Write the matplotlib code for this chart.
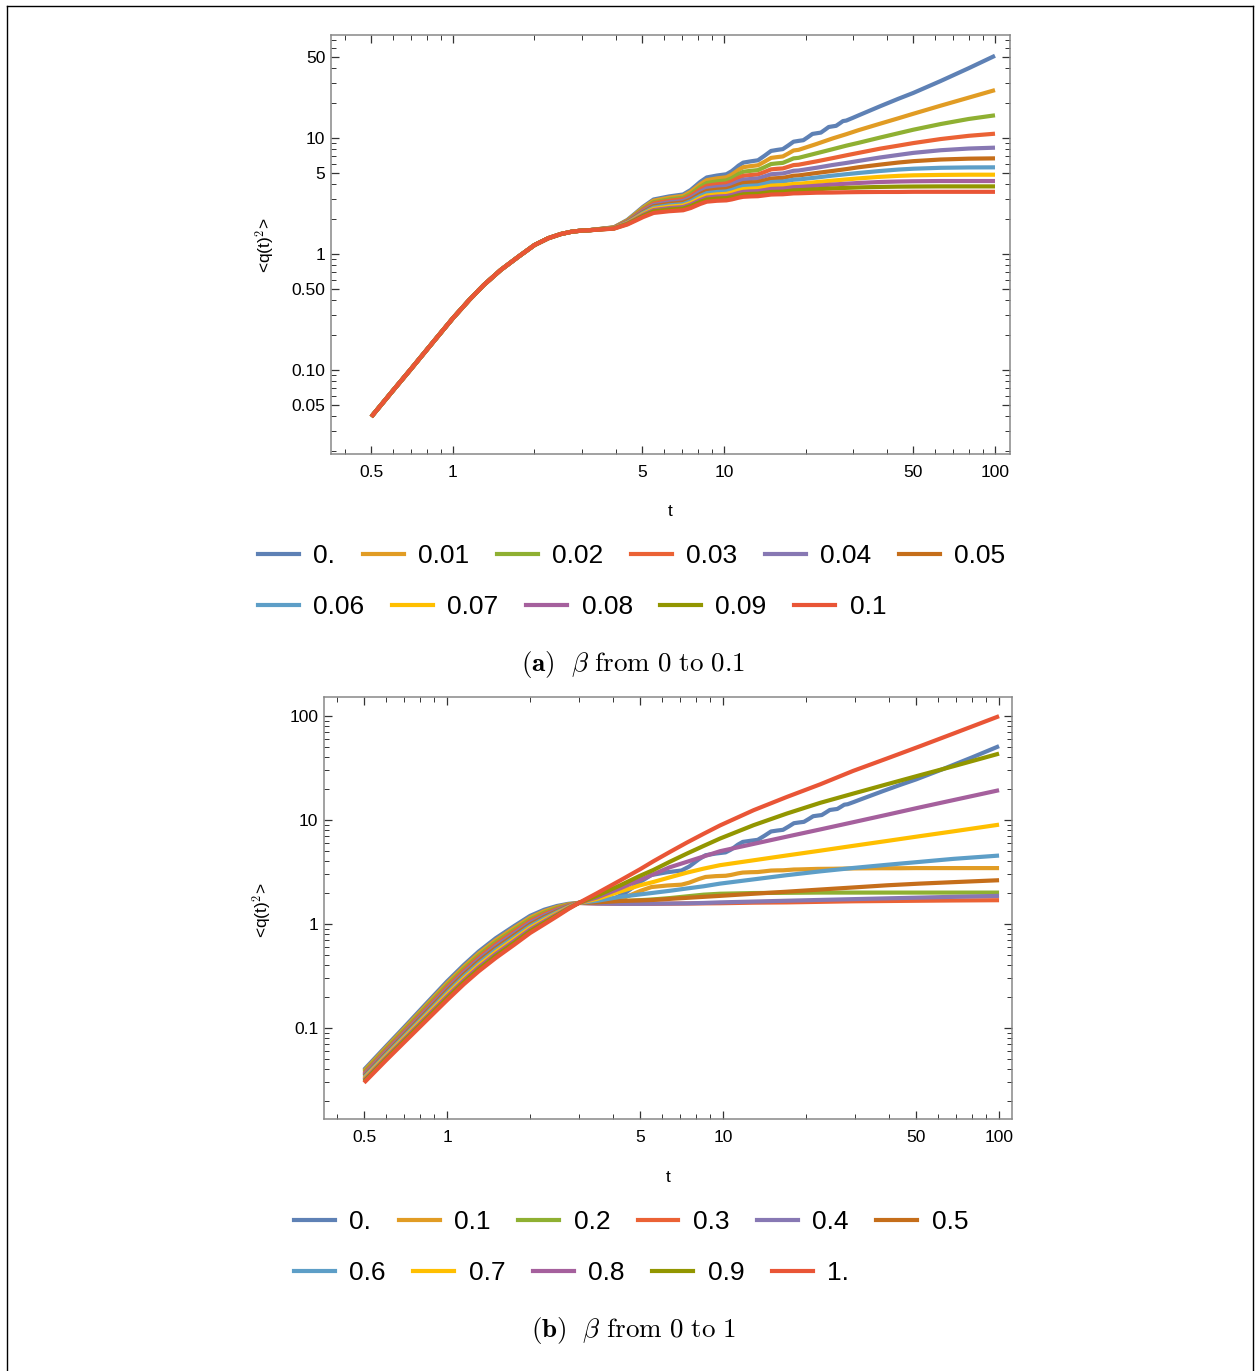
import matplotlib
matplotlib.use('Agg')
import matplotlib.pyplot as plt
from matplotlib.lines import Line2D
from matplotlib.ticker import FixedLocator, FixedFormatter, NullFormatter

plt.rcParams['mathtext.fontset'] = 'cm'
plt.rcParams['font.family'] = ['Liberation Sans', 'DejaVu Sans']

# ---------------- data: panel (a), beta from 0 to 0.1 ----------------
labels_a = ["0.", "0.01", "0.02", "0.03", "0.04", "0.05", "0.06", "0.07", "0.08", "0.09", "0.1"]
t_a = [0.5, 0.6, 0.7, 0.85, 1.0, 1.15, 1.3, 1.5, 1.75, 2.0, 2.25, 2.5, 2.75, 3.0,
       3.14, 3.93, 4.40, 4.71, 5.03, 5.50, 6.28, 7.07, 7.54, 7.85, 8.17, 8.64,
       9.42, 10.21, 10.68, 11.0, 11.31, 11.78, 12.57, 13.35, 14.14, 14.92,
       15.71, 16.49, 17.28, 18.06, 18.85, 22.0, 25.1, 28.3, 31.4, 37.7, 44.0, 50.0, 63.0, 80.0, 100.0]
t_a_beta0 = [0.5, 0.6, 0.7, 0.85, 1.0, 1.15, 1.3, 1.5, 1.75, 2.0, 2.25, 2.5, 2.75, 3.0,
             3.14, 3.93, 4.40, 4.71, 5.03, 5.50, 6.28, 7.07, 7.54, 7.85, 8.17, 8.64,
             9.42, 10.21, 10.68, 11.0, 11.31, 11.78, 12.57, 13.35, 14.14, 14.92,
             15.71, 16.49, 17.28, 18.06, 18.85, 19.63, 20.42, 21.21, 21.99, 22.78, 23.56, 24.35,
             25.13, 25.92, 26.70, 27.49, 28.27, 29.85, 31.42, 37.7, 44.0, 50.0, 63.0, 80.0, 100.0]
q_early = [0.0396, 0.0663, 0.102, 0.177, 0.28, 0.403, 0.541, 0.728, 0.954, 1.196, 1.37, 1.487, 1.56, 1.595]
q_a_000 = q_early + [1.6, 1.701, 1.967, 2.242, 2.554, 2.953, 3.14, 3.262, 3.565, 3.862, 4.184, 4.574,
                     4.75, 4.874, 5.18, 5.47, 5.777, 6.14, 6.3, 6.43, 7.055, 7.74, 7.9, 8.03, 8.64, 9.297,
                     9.45, 9.58, 10.19, 10.85, 11.0, 11.14, 11.77, 12.45, 12.6, 12.74, 13.35, 14.0, 14.15,
                     14.91, 15.7, 18.8, 21.8, 24.5, 31.0, 40.0, 51.2]
q_a_001 = q_early + [1.6, 1.697, 1.951, 2.213, 2.508, 2.885, 3.06, 3.169, 3.442, 3.707, 3.993, 4.335, 4.49,
                     4.590, 4.838, 5.073, 5.318, 5.605, 5.73, 5.824, 6.266, 6.741, 6.85, 6.94, 7.36, 7.81,
                     7.91, 8.9, 9.9, 10.8, 11.7, 13.3, 14.8, 16.2, 19.0, 22.3, 25.9]
q_a_002 = q_early + [1.6, 1.692, 1.932, 2.176, 2.452, 2.799, 2.96, 3.058, 3.302, 3.538, 3.792, 4.095, 4.23,
                     4.312, 4.512, 4.699, 4.894, 5.121, 5.22, 5.290, 5.620, 5.970, 6.05, 6.11, 6.39, 6.68,
                     6.75, 7.4, 8.0, 8.6, 9.1, 10.1, 11.0, 11.8, 13.2, 14.6, 15.7]
q_a_003 = q_early + [1.6, 1.688, 1.916, 2.147, 2.406, 2.731, 2.88, 2.967, 3.183, 3.390, 3.610, 3.874, 3.99,
                     4.058, 4.223, 4.376, 4.535, 4.720, 4.80, 4.855, 5.105, 5.369, 5.43, 5.47, 5.655, 5.846,
                     5.89, 6.3, 6.7, 7.1, 7.45, 8.1, 8.6, 9.05, 9.8, 10.45, 10.9]
q_a_004 = q_early + [1.6, 1.683, 1.897, 2.113, 2.353, 2.653, 2.79, 2.868, 3.062, 3.248, 3.444, 3.677, 3.78,
                     3.836, 3.971, 4.098, 4.227, 4.375, 4.44, 4.483, 4.674, 4.874, 4.92, 4.95, 5.083, 5.22,
                     5.25, 5.55, 5.85, 6.1, 6.35, 6.8, 7.15, 7.45, 7.85, 8.12, 8.26]
q_a_005 = q_early + [1.6, 1.679, 1.880, 2.082, 2.305, 2.584, 2.71, 2.780, 2.954, 3.120, 3.294, 3.499, 3.59,
                     3.636, 3.750, 3.856, 3.963, 4.088, 4.14, 4.173, 4.322, 4.476, 4.51, 4.533, 4.634, 4.737,
                     4.76, 5.0, 5.2, 5.4, 5.6, 5.9, 6.15, 6.32, 6.53, 6.64, 6.68]
q_a_006 = q_early + [1.6, 1.674, 1.863, 2.051, 2.258, 2.515, 2.63, 2.695, 2.853, 3.004, 3.162, 3.348, 3.43,
                     3.469, 3.562, 3.649, 3.736, 3.836, 3.88, 3.908, 4.036, 4.170, 4.20, 4.217, 4.295, 4.372,
                     4.39, 4.57, 4.74, 4.88, 5.0, 5.2, 5.35, 5.44, 5.54, 5.58, 5.59]
q_a_007 = q_early + [1.6, 1.670, 1.848, 2.024, 2.216, 2.453, 2.56, 2.618, 2.759, 2.893, 3.033, 3.197, 3.27,
                     3.304, 3.387, 3.463, 3.541, 3.631, 3.67, 3.691, 3.788, 3.888, 3.91, 3.922, 3.971, 4.019,
                     4.03, 4.17, 4.29, 4.4, 4.49, 4.63, 4.72, 4.77, 4.81, 4.83, 4.83]
q_a_008 = q_early + [1.6, 1.666, 1.832, 1.996, 2.175, 2.392, 2.49, 2.542, 2.671, 2.792, 2.919, 3.066, 3.13,
                     3.160, 3.230, 3.295, 3.362, 3.437, 3.47, 3.486, 3.563, 3.642, 3.66, 3.671, 3.719, 3.769,
                     3.78, 3.88, 3.97, 4.04, 4.1, 4.18, 4.22, 4.24, 4.26, 4.26, 4.26]
q_a_009 = q_early + [1.6, 1.662, 1.816, 1.968, 2.132, 2.331, 2.42, 2.468, 2.588, 2.700, 2.816, 2.951, 3.01,
                     3.035, 3.096, 3.151, 3.208, 3.273, 3.30, 3.313, 3.371, 3.428, 3.44, 3.45, 3.495, 3.54,
                     3.55, 3.62, 3.68, 3.72, 3.75, 3.79, 3.81, 3.82, 3.83, 3.83, 3.83]
q_a_010 = q_early + [1.6, 1.656, 1.797, 1.935, 2.082, 2.261, 2.34, 2.384, 2.493, 2.596, 2.702, 2.827, 2.88,
                     2.902, 2.957, 3.007, 3.058, 3.115, 3.14, 3.152, 3.205, 3.258, 3.27, 3.276, 3.305, 3.334,
                     3.34, 3.38, 3.39, 3.41, 3.42, 3.43, 3.43, 3.44, 3.44, 3.44, 3.44]
series_a = [(t_a_beta0, q_a_000), (t_a, q_a_001), (t_a, q_a_002), (t_a, q_a_003), (t_a, q_a_004),
            (t_a, q_a_005), (t_a, q_a_006), (t_a, q_a_007), (t_a, q_a_008), (t_a, q_a_009), (t_a, q_a_010)]

# ---------------- data: panel (b), beta from 0 to 1 ----------------
labels_b = ["0.", "0.1", "0.2", "0.3", "0.4", "0.5", "0.6", "0.7", "0.8", "0.9", "1."]
q_b_01 = [0.0385, 0.0643, 0.0986, 0.1704, 0.2686, 0.3862, 0.5178, 0.6968, 0.9153, 1.1514, 1.3266,
          1.4531, 1.5422, 1.5913] + q_a_010[14:]
t_b = [0.5, 0.6, 0.7, 0.85, 1.0, 1.15, 1.3, 1.5, 1.75, 2.0, 2.25, 2.5, 2.75, 3.0,
       3.5, 4.24, 5.0, 5.59, 6.4, 7.39, 8.5, 9.75, 12.9, 17.0, 22.5, 29.6, 39.2, 51.7, 68.3, 100.0]
q_b_02 = [0.03739, 0.06229, 0.09537, 0.1641, 0.2577, 0.3701, 0.4956, 0.6669, 0.8780, 1.108, 1.284, 1.420, 1.524, 1.59,
          1.6, 1.65, 1.69, 1.72, 1.77, 1.84, 1.91, 1.95, 1.98, 1.99, 2.0, 2.0, 2.0, 2.0, 2.0, 2.0]
q_b_03 = [0.03633, 0.06039, 0.09222, 0.1579, 0.2472, 0.3547, 0.4744, 0.6383, 0.8424, 1.067, 1.244, 1.388, 1.507, 1.59,
          1.57, 1.56, 1.56, 1.56, 1.565, 1.57, 1.575, 1.58, 1.6, 1.61, 1.63, 1.65, 1.66, 1.67, 1.68, 1.69]
q_b_04 = [0.0353, 0.05854, 0.08917, 0.1521, 0.2372, 0.3399, 0.4541, 0.6110, 0.8082, 1.027, 1.204, 1.356, 1.490, 1.59,
          1.57, 1.56, 1.56, 1.565, 1.57, 1.575, 1.59, 1.61, 1.64, 1.67, 1.70, 1.73, 1.76, 1.79, 1.82, 1.86]
q_b_05 = [0.03429, 0.05675, 0.08622, 0.1464, 0.2276, 0.3257, 0.4346, 0.5849, 0.7753, 0.989, 1.166, 1.325, 1.473, 1.59,
          1.61, 1.66, 1.68, 1.70, 1.74, 1.78, 1.82, 1.86, 1.95, 2.04, 2.14, 2.24, 2.35, 2.44, 2.52, 2.63]
q_b_06 = [0.03332, 0.05502, 0.08337, 0.1409, 0.2183, 0.3121, 0.4160, 0.5598, 0.7439, 0.9521, 1.129, 1.295, 1.456, 1.59,
          1.67, 1.82, 1.92, 1.99, 2.08, 2.19, 2.3, 2.44, 2.68, 2.94, 3.2, 3.45, 3.7, 3.95, 4.22, 4.54]
q_b_07 = [0.03237, 0.05333, 0.08061, 0.1357, 0.2095, 0.2991, 0.3982, 0.5359, 0.7137, 0.9167, 1.093, 1.266, 1.439, 1.59,
          1.74, 2.05, 2.35, 2.53, 2.8, 3.11, 3.4, 3.67, 4.09, 4.55, 5.06, 5.63, 6.27, 6.98, 7.76, 9.0]
q_b_08 = [0.03145, 0.0517, 0.07794, 0.1306, 0.2010, 0.2866, 0.3812, 0.5129, 0.6847, 0.8824, 1.058, 1.237, 1.423, 1.59,
          1.8, 2.2, 2.65, 3.0, 3.5, 3.95, 4.45, 5.0, 5.88, 6.9, 8.1, 9.5, 11.2, 13.2, 15.5, 19.3]
q_b_09 = [0.03056, 0.05012, 0.07537, 0.1257, 0.1928, 0.2747, 0.3648, 0.4910, 0.6569, 0.8495, 1.025, 1.209, 1.406, 1.59,
          1.87, 2.35, 2.9, 3.3, 3.95, 4.74, 5.62, 6.62, 8.9, 11.5, 14.6, 17.9, 22.0, 26.9, 32.8, 43.4]
q_b_10 = [0.02969, 0.04858, 0.07287, 0.1211, 0.1850, 0.2632, 0.3492, 0.4700, 0.6302, 0.8179, 0.9924, 1.181, 1.390, 1.59,
          1.98, 2.62, 3.35, 4.0, 4.9, 6.05, 7.35, 8.85, 12.4, 16.6, 22.0, 29.6, 38.9, 51.1, 67.6, 99.4]
series_b = [(t_a_beta0, q_a_000), (t_a, q_b_01), (t_b, q_b_02), (t_b, q_b_03), (t_b, q_b_04), (t_b, q_b_05),
            (t_b, q_b_06), (t_b, q_b_07), (t_b, q_b_08), (t_b, q_b_09), (t_b, q_b_10)]

colors = ["#5E81B5", "#E19C24", "#8FB032", "#EB6235", "#8778B3", "#C56E1A",
          "#5D9EC7", "#FFBF00", "#A5609D", "#929600", "#E95536"]

for tt, qq in series_a + series_b:
    assert len(tt) == len(qq), (len(tt), len(qq))

# ---------------- figure ----------------
W, H = 1260, 1371
fig = plt.figure(figsize=(W / 100, H / 100), dpi=100)


def fx(px):
    return px / W


def fy(py):
    return 1 - py / H


def minor_list(lo, hi, majors):
    out = []
    for d in range(-3, 4):
        for m in range(1, 10):
            v = round(m * 10.0 ** d, 6)
            if lo < v < hi and all(abs(v - M) > 1e-9 for M in majors):
                out.append(v)
    return out


def style(ax, xlim, ylim, xmaj, xlab, ymaj, ylab):
    ax.set_xscale('log')
    ax.set_yscale('log')
    ax.set_xlim(*xlim)
    ax.set_ylim(*ylim)
    ax.xaxis.set_major_locator(FixedLocator(xmaj))
    ax.xaxis.set_major_formatter(FixedFormatter(xlab))
    ax.xaxis.set_minor_locator(FixedLocator(minor_list(xlim[0], xlim[1], xmaj)))
    ax.xaxis.set_minor_formatter(NullFormatter())
    ax.yaxis.set_major_locator(FixedLocator(ymaj))
    ax.yaxis.set_major_formatter(FixedFormatter(ylab))
    ax.yaxis.set_minor_locator(FixedLocator(minor_list(ylim[0], ylim[1], ymaj)))
    ax.yaxis.set_minor_formatter(NullFormatter())
    ax.tick_params(which='both', direction='in', top=True, right=True, color='#333333')
    ax.tick_params(which='major', length=6, width=0.9, labelsize=12.5)
    ax.tick_params(which='minor', length=3.5, width=0.7)
    ax.tick_params(axis='x', which='major', pad=8)
    ax.tick_params(axis='y', which='major', pad=4)
    for s in ax.spines.values():
        s.set_color('#888888')
        s.set_linewidth(1.1)


LW = 3.0

# panel a
ax1 = fig.add_axes([fx(331), fy(454), fx(1010) - fx(331), (454 - 35) / H])
for (t, q), c in zip(series_a, colors):
    ax1.plot(t, q, color=c, lw=LW, solid_joinstyle='round', solid_capstyle='butt')
style(ax1, (0.355, 113.6), (0.0189, 77.3),
      [0.5, 1, 5, 10, 50, 100], ["0.5", "1", "5", "10", "50", "100"],
      [0.05, 0.1, 0.5, 1, 5, 10, 50], ["0.05", "0.10", "0.50", "1", "5", "10", "50"])

# panel b
ax2 = fig.add_axes([fx(324), fy(1119), fx(1012) - fx(324), (1119 - 697) / H])
for (t, q), c in zip(series_b, colors):
    ax2.plot(t, q, color=c, lw=LW, solid_joinstyle='round', solid_capstyle='butt')
style(ax2, (0.358, 111.4), (0.0133, 152),
      [0.5, 1, 5, 10, 50, 100], ["0.5", "1", "5", "10", "50", "100"],
      [0.1, 1, 10, 100], ["0.1", "1", "10", "100"])

# axis labels
for (xt, yt), (xy, yy) in [((670, 511), (265, 245)), ((668, 1177), (262, 910))]:
    fig.text(fx(xt), fy(yt), "t", ha='center', va='center', fontsize=12.5)
    fig.text(fx(xy), fy(yy), r"<q(t)$^{2}$>", ha='center', va='center', rotation=90, fontsize=12.5)


def row_legend(idx, labels, x_px, y_px):
    handles = [Line2D([], [], color=colors[i], lw=LW) for i in idx]
    leg = fig.legend(handles, [labels[i] for i in idx], loc='center left',
                     bbox_to_anchor=(fx(x_px), fy(y_px)), ncol=len(idx), frameon=False,
                     fontsize=19, handlelength=1.55, handletextpad=0.55, columnspacing=1.04,
                     borderpad=0, borderaxespad=0)
    return leg


row_legend(range(0, 6), labels_a, 258, 556)
row_legend(range(6, 11), labels_a, 258, 607)
row_legend(range(0, 6), labels_b, 294, 1222)
row_legend(range(6, 11), labels_b, 294, 1273)

# captions
fig.text(fx(633), fy(665), r"$\mathbf{(a)}\ \ \beta\ \mathrm{from\ 0\ to\ 0.1}$",
         ha='center', va='center', fontsize=19.5)
fig.text(fx(633), fy(1331), r"$\mathbf{(b)}\ \ \beta\ \mathrm{from\ 0\ to\ 1}$",
         ha='center', va='center', fontsize=19.5)

# outer frame
for xs, ys in [((7, 7), (6, 1380)), ((1253, 1253), (6, 1380)), ((7, 1253), (6, 6))]:
    fig.add_artist(Line2D([fx(xs[0]), fx(xs[1])], [fy(ys[0]), fy(ys[1])],
                          transform=fig.transFigure, color='black', lw=1.0))

fig.savefig("out.png", dpi=100)
